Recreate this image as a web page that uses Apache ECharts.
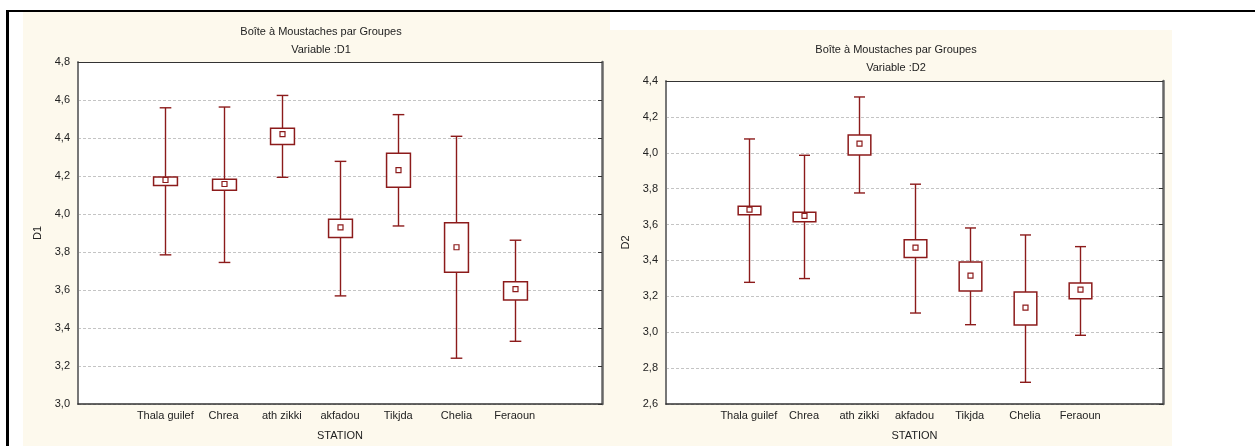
<!DOCTYPE html>
<html>
<head>
<meta charset="utf-8">
<script src="https://cdn.jsdelivr.net/npm/echarts@6/dist/echarts.min.js"></script>
<style>
html,body{margin:0;padding:0;background:#fff;}
#chart{width:1255px;height:446px;}
</style>
</head>
<body>
<div id="chart"></div>
<script>
// ---- Data ----
const categories = ['', 'Thala guilef', 'Chrea', 'ath zikki', 'akfadou', 'Tikjda', 'Chelia', 'Feraoun', ''];
const stations = ['Thala guilef', 'Chrea', 'ath zikki', 'akfadou', 'Tikjda', 'Chelia', 'Feraoun'];

// D1
const d1Mean      = [4.179, 4.158, 4.420, 3.930, 4.231, 3.825, 3.605];
const d1BoxLow    = [4.150, 4.125, 4.366, 3.876, 4.141, 3.694, 3.548];
const d1BoxHigh   = [4.195, 4.183, 4.451, 3.972, 4.320, 3.954, 3.644];
const d1WhiskLow  = [3.785, 3.745, 4.193, 3.569, 3.937, 3.241, 3.330];
const d1WhiskHigh = [4.559, 4.563, 4.624, 4.277, 4.523, 4.409, 3.862];

// D2
const d2Mean      = [3.683, 3.648, 4.051, 3.471, 3.315, 3.137, 3.237];
const d2BoxLow    = [3.655, 3.616, 3.988, 3.416, 3.230, 3.040, 3.187];
const d2BoxHigh   = [3.702, 3.668, 4.099, 3.516, 3.392, 3.224, 3.274];
const d2WhiskLow  = [3.278, 3.299, 3.776, 3.107, 3.042, 2.721, 2.983];
const d2WhiskHigh = [4.077, 3.986, 4.311, 3.825, 3.581, 3.542, 3.477];

// y-axis tick settings
const d1YMin = 3.0, d1YMax = 4.8, d1YStep = 0.2;
const d2YMin = 2.6, d2YMax = 4.4, d2YStep = 0.2;

const RED = '#8c1b1b';
const FONT = '"Liberation Sans", Arial, sans-serif';

function buildRows(mean, bl, bh, wl, wh) {
  return stations.map((s, i) => [i + 1, wl[i], bl[i], mean[i], bh[i], wh[i]]);
}

function renderBox(params, api) {
  const x = api.value(0);
  const pWl = api.coord([x, api.value(1)]);
  const pBl = api.coord([x, api.value(2)]);
  const pM  = api.coord([x, api.value(3)]);
  const pBh = api.coord([x, api.value(4)]);
  const pWh = api.coord([x, api.value(5)]);
  const band = api.size([1, 0])[0];
  const bw = band * 0.41;
  const cw = band * 0.2;
  const cx = Math.round(pM[0]) + 0.5;
  const ls = {stroke: RED, lineWidth: 1.4};
  return {
    type: 'group',
    children: [
      {type: 'line', shape: {x1: cx, y1: pWh[1], x2: cx, y2: pBh[1]}, style: ls},
      {type: 'line', shape: {x1: cx, y1: pBl[1], x2: cx, y2: pWl[1]}, style: ls},
      {type: 'line', shape: {x1: cx - cw / 2, y1: pWh[1], x2: cx + cw / 2, y2: pWh[1]}, style: ls},
      {type: 'line', shape: {x1: cx - cw / 2, y1: pWl[1], x2: cx + cw / 2, y2: pWl[1]}, style: ls},
      {type: 'rect', shape: {x: cx - bw / 2, y: pBh[1], width: bw, height: pBl[1] - pBh[1]},
        style: {fill: '#fff', stroke: RED, lineWidth: 1.5}},
      {type: 'rect', shape: {x: cx - 2.5, y: pM[1] - 2.5, width: 5, height: 5},
        style: {fill: '#fff', stroke: RED, lineWidth: 1.2}}
    ]
  };
}

const fmt = v => v.toFixed(1).replace('.', ',');

function xAxes(gi) {
  return [
    {
      type: 'category', data: categories, gridIndex: gi, position: 'bottom',
      axisLine: {lineStyle: {color: '#333', width: 1.5}},
      axisTick: {inside: true, alignWithLabel: true, length: 4, lineStyle: {color: '#333'}},
      axisLabel: {margin: 6, fontSize: 11, color: '#222', fontFamily: FONT, interval: 0},
      name: 'STATION', nameLocation: 'middle', nameGap: 26,
      nameTextStyle: {fontSize: 11, color: '#222', fontFamily: FONT},
      splitLine: {show: false}
    },
    {
      type: 'category', data: categories, gridIndex: gi, position: 'top',
      axisLine: {lineStyle: {color: '#333', width: 1.2}},
      axisTick: {inside: true, alignWithLabel: true, length: 4, lineStyle: {color: '#333'}},
      axisLabel: {show: false}, splitLine: {show: false}
    }
  ];
}

function yAxes(gi, min, max, step, name) {
  return [
    {
      type: 'value', gridIndex: gi, position: 'left', min: min, max: max, interval: step,
      axisLine: {show: true, lineStyle: {color: '#777', width: 2}},
      axisTick: {show: false},
      axisLabel: {formatter: fmt, fontSize: 11, color: '#222', fontFamily: FONT, margin: 8},
      splitLine: {show: true, lineStyle: {color: '#c4c4c4', type: [3, 2], width: 1}},
      name: name, nameLocation: 'middle', nameGap: 35, nameRotate: 90,
      nameTextStyle: {fontSize: 11, color: '#222', fontFamily: FONT}
    },
    {
      type: 'value', gridIndex: gi, position: 'right', min: min, max: max, interval: step,
      axisLine: {show: true, lineStyle: {color: '#666', width: 2.5}},
      axisTick: {show: true, inside: true, length: 4, lineStyle: {color: '#333'}},
      axisLabel: {show: false}, splitLine: {show: false}
    }
  ];
}

const chart = echarts.init(document.getElementById('chart'), null, {renderer: 'canvas'});
chart.setOption({
  animation: false,
  backgroundColor: '#fff',
  title: [
    {text: 'Boîte à Moustaches par Groupes', left: 316, top: 21, textAlign: 'center',
      textStyle: {fontSize: 11, fontWeight: 'normal', color: '#222', fontFamily: FONT}},
    {text: 'Variable :D1', left: 316, top: 39, textAlign: 'center',
      textStyle: {fontSize: 11, fontWeight: 'normal', color: '#222', fontFamily: FONT}},
    {text: 'Boîte à Moustaches par Groupes', left: 891, top: 39, textAlign: 'center',
      textStyle: {fontSize: 11, fontWeight: 'normal', color: '#222', fontFamily: FONT}},
    {text: 'Variable :D2', left: 891, top: 57, textAlign: 'center',
      textStyle: {fontSize: 11, fontWeight: 'normal', color: '#222', fontFamily: FONT}}
  ],
  graphic: [
    {type: 'rect', z: -100, shape: {x: 23, y: 12, width: 587, height: 434}, style: {fill: '#fdf9ed'}},
    {type: 'rect', z: -100, shape: {x: 610, y: 30, width: 562, height: 416}, style: {fill: '#fdf9ed'}},
    {type: 'rect', z: 100, shape: {x: 6, y: 10, width: 1249, height: 2}, style: {fill: '#000'}},
    {type: 'rect', z: 100, shape: {x: 6, y: 10, width: 3, height: 436}, style: {fill: '#000'}}
  ],
  grid: [
    {left: 78, top: 62, width: 524, height: 344, show: true, backgroundColor: '#fff', borderWidth: 0},
    {left: 666, top: 81, width: 497, height: 323, show: true, backgroundColor: '#fff', borderWidth: 0}
  ],
  xAxis: [...xAxes(0), ...xAxes(1)],
  yAxis: [...yAxes(0, d1YMin, d1YMax, d1YStep, 'D1'), ...yAxes(1, d2YMin, d2YMax, d2YStep, 'D2')],
  series: [
    {type: 'custom', xAxisIndex: 0, yAxisIndex: 0, renderItem: renderBox,
      data: buildRows(d1Mean, d1BoxLow, d1BoxHigh, d1WhiskLow, d1WhiskHigh), encode: {x: 0, y: [1, 2, 3, 4, 5]}},
    {type: 'custom', xAxisIndex: 2, yAxisIndex: 2, renderItem: renderBox,
      data: buildRows(d2Mean, d2BoxLow, d2BoxHigh, d2WhiskLow, d2WhiskHigh), encode: {x: 0, y: [1, 2, 3, 4, 5]}}
  ]
});
</script>
</body>
</html>
